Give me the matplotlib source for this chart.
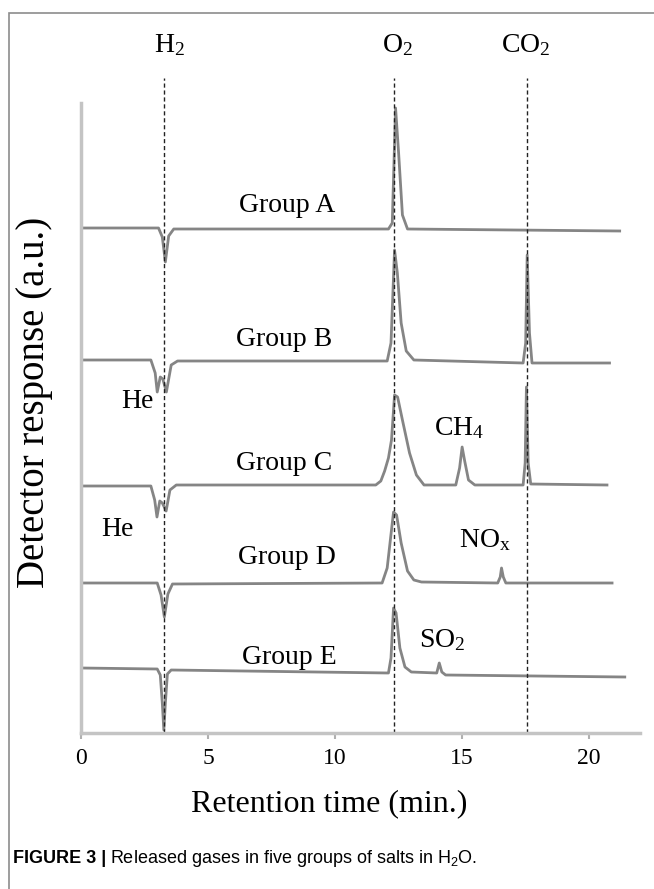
import matplotlib
matplotlib.use("Agg")
import matplotlib.pyplot as plt
from matplotlib.patches import Rectangle

plt.rcParams['font.family'] = ['Liberation Serif', 'DejaVu Serif']
plt.rcParams['mathtext.default'] = 'regular'

# retention time (min) / detector response (a.u.) points
a_t = [0, 3.05, 3.2, 3.32, 3.45, 3.65, 12.1, 12.25, 12.38, 12.5, 12.65, 12.85, 21.2]
a_y = [50.5, 50.5, 49.6, 47.1, 49.7, 50.4, 50.4, 51.0, 62.5, 58.0, 51.8, 50.4, 50.2]

b_t = [0, 2.75, 2.92, 3.0, 3.12, 3.22, 3.36, 3.55, 3.8, 12.05, 12.2, 12.34, 12.45,
       12.6, 12.8, 13.1, 17.4, 17.5, 17.56, 17.65, 17.75, 20.8]
b_y = [37.3, 37.3, 36.0, 34.1, 35.6, 35.4, 34.1, 36.8, 37.2, 37.2, 39.0, 48.3, 46.0,
       41.0, 38.2, 37.3, 37.0, 39.0, 47.8, 40.0, 37.0, 37.0]

c_t = [0, 2.75, 2.9, 2.99, 3.1, 3.2, 3.35, 3.5, 3.75, 11.6, 11.8, 11.95, 12.1, 12.22,
       12.34, 12.46, 12.65, 12.93, 13.2, 13.5, 14.75, 14.9, 15.0, 15.1, 15.25, 15.5,
       17.4, 17.48, 17.53, 17.6, 17.7, 20.7]
c_y = [24.7, 24.7, 23.3, 21.6, 23.2, 23.0, 22.2, 24.3, 24.8, 24.8, 25.2, 26.2, 27.5, 29.3,
       33.8, 33.6, 31.3, 28.0, 25.8, 24.8, 24.8, 26.5, 28.6, 27.2, 25.3, 24.8,
       24.8, 27.0, 34.6, 27.0, 24.9, 24.8]

d_t = [0, 3.0, 3.15, 3.28, 3.42, 3.6, 11.85, 12.05, 12.3, 12.42, 12.6, 12.85, 13.1, 13.4,
       16.4, 16.5, 16.55, 16.62, 16.72, 20.9]
d_y = [15.0, 15.0, 13.8, 11.6, 13.9, 14.9, 15.0, 16.5, 22.1, 21.8, 19.0, 16.2, 15.3, 15.1,
       15.0, 15.6, 16.5, 15.6, 15.0, 15.0]

e_t = [0, 3.0, 3.12, 3.2, 3.26, 3.32, 3.4, 3.55, 12.1, 12.2, 12.3, 12.4, 12.55, 12.75, 13.0,
       14.0, 14.1, 14.2, 14.35, 21.4]
e_y = [6.5, 6.4, 5.8, 3.0, 0.3, 3.0, 5.9, 6.3, 6.0, 7.5, 12.5, 12.0, 8.5, 6.6, 6.1,
       6.0, 7.0, 6.1, 5.8, 5.6]

traces = [(a_t, a_y), (b_t, b_y), (c_t, c_y), (d_t, d_y), (e_t, e_y)]

gas_t = [3.26, 12.3, 17.56]
gas_names = ['H$_2$', 'O$_2$', 'CO$_2$']
gas_label_t = [3.5, 12.46, 17.52]

group_names = ['Group A', 'Group B', 'Group C', 'Group D', 'Group E']
group_x = [8.1, 8.0, 8.0, 8.1, 8.2]
group_y = [52.8, 39.3, 27.0, 17.5, 7.6]

# extra peak names: text, time, response
peak_names = ['He', 'CH$_4$', 'He', 'NO$_x$', 'SO$_2$']
peak_x = [2.2, 14.9, 1.45, 15.9, 14.2]
peak_y = [33.1, 30.5, 20.3, 19.3, 9.3]

xticks = [0, 5, 10, 15, 20]

fig = plt.figure(figsize=(6.54, 8.89), dpi=100)
ax = fig.add_axes([81/654, 156/889, 559/654, 660/889])

for t, y in traces:
    ax.plot(t, y, color='#858585', lw=2.0, solid_joinstyle='round')

for t in gas_t:
    ax.plot([t, t], [0, 65.5], color='#222222', lw=1.0, dashes=(3, 2))

for name, t in zip(gas_names, gas_label_t):
    ax.text(t, 68.8, name, fontsize=20, ha='center', va='center')

for name, x, y in zip(group_names, group_x, group_y):
    ax.text(x, y, name, fontsize=20, ha='center', va='center')

for name, x, y in zip(peak_names, peak_x, peak_y):
    ax.text(x, y, name, fontsize=20, ha='center', va='center')

ax.set_xlim(0, 22)
ax.set_ylim(0, 66)
ax.set_xticks(xticks)
ax.set_yticks([])
ax.tick_params(axis='x', labelsize=17, length=4, width=1.5, color='#b0b0b0', pad=7)
for s in ['top', 'right']:
    ax.spines[s].set_visible(False)
for s in ['left', 'bottom']:
    ax.spines[s].set_color('#c4c4c4')
    ax.spines[s].set_linewidth(2.5)
ax.spines['left'].set_bounds(0, 63)

fig.text(329/654, 1 - 804/889, 'Retention time (min.)', fontsize=23, ha='center', va='center')
fig.text(35/654, 1 - 402/889, 'Detector response (a.u.)', fontsize=28, ha='center',
         va='center', rotation=90)

# frame around the figure
fig.add_artist(Rectangle((9/654, -0.1), 1.2, 1 - 13/889 + 0.1, transform=fig.transFigure,
                         fill=False, edgecolor='#8c8c8c', lw=1.2))

cap_y = 1 - 863/889
t1 = fig.text(13/654, cap_y, 'FIGURE 3 |', fontsize=13, fontweight='bold',
              family='Liberation Sans', va='baseline')
fig.canvas.draw()
bb = t1.get_window_extent()
x2 = (bb.x1 + 4) / fig.bbox.width
fig.text(x2, cap_y, 'Released gases in five groups of salts in H$_2$O.', fontsize=13,
         family='Liberation Sans', va='baseline')

fig.savefig('out.png', dpi=100)
